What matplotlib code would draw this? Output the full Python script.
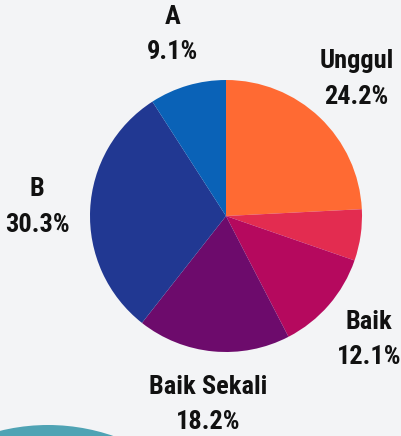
import matplotlib
matplotlib.use("Agg")
import matplotlib.pyplot as plt
from matplotlib.patches import Circle
from matplotlib import font_manager
from matplotlib.font_manager import FontProperties

categories = ["Unggul", "", "Baik", "Baik Sekali", "B", "A"]
values = [24.2, 6.1, 12.1, 18.2, 30.3, 9.1]
colors = ["#FF6A33", "#E32C50", "#B5095E", "#6D0B6C", "#213892", "#0A62B7"]
bg = "#F3F4F6"

# find a condensed bold font if available
cands = []
for f in font_manager.fontManager.ttflist:
    low = f.fname.lower()
    if ("condensed" in low or "narrow" in low) and ("bold" in low or f.weight in (700, "bold")):
        score = 0
        if "semi" in low or "extra" in low:
            score += 2
        if "italic" in low or "oblique" in low:
            score += 10
        if "opensans" in low.replace(" ", "") or "roboto" in low:
            score -= 1
        cands.append((score, f.fname))
if cands:
    cands.sort()
    fp = FontProperties(fname=cands[0][1], size=19)
else:
    fp = FontProperties(family="DejaVu Sans", weight="bold", size=15)

fig = plt.figure(figsize=(4.01, 4.36), dpi=100, facecolor=bg)
W, H = 401, 436
R = 136
cx, cy = 226, 216
ax = fig.add_axes([(cx - R) / W, 1 - (cy + R) / H, 2 * R / W, 2 * R / H])
ax.set_facecolor(bg)
labels = [f"{c}\n{v:.1f}%" if c else "" for c, v in zip(categories, values)]
wedges, texts = ax.pie(values, colors=colors, startangle=90, counterclock=False,
                       labels=labels, labeldistance=1.39,
                       wedgeprops=dict(linewidth=0))
for t in texts:
    t.set_fontproperties(fp)
    t.set_color("#111111")
    t.set_linespacing(1.6)
    t.set_ha("center")
    t.set_va("center")
ax.set_xlim(-1, 1)
ax.set_ylim(-1, 1)
ax.set_aspect("equal")

bax = fig.add_axes([0, 0, 1, 1], zorder=-1)
bax.set_xlim(0, W)
bax.set_ylim(H, 0)
bax.axis("off")
bax.add_patch(Circle((48, 625), 200, color="#4FA3B4", lw=0))

fig.savefig("out.png", dpi=100, facecolor=bg)
